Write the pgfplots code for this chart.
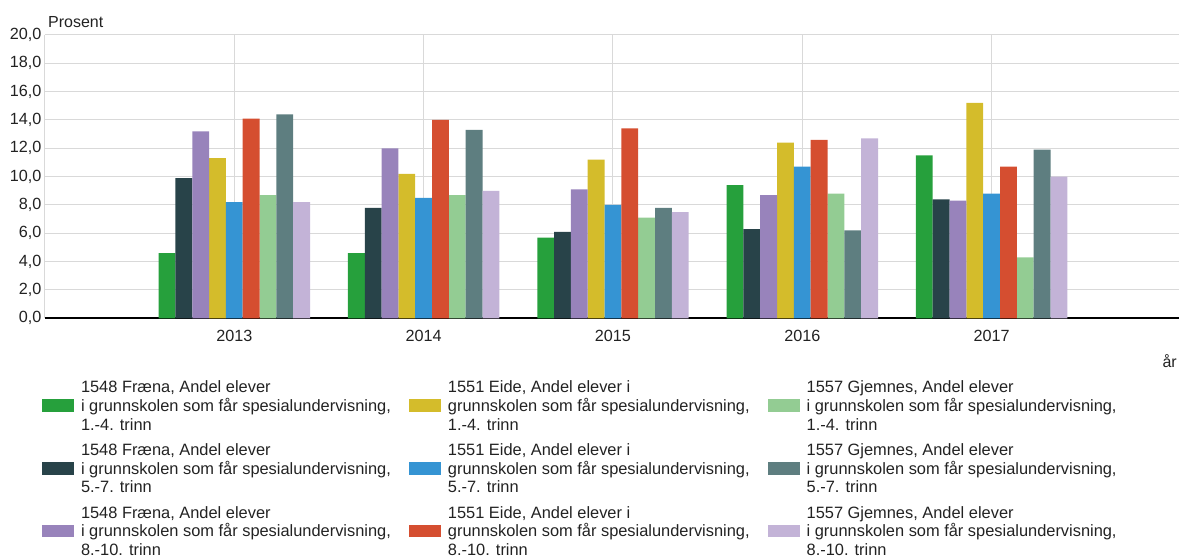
\documentclass[border=0pt]{standalone}
\usepackage{fontspec}
\setmainfont{Liberation Sans}
\usepackage{pgfplots}
\pgfplotsset{compat=1.18}
\definecolor{cFa}{RGB}{38,160,60}
\definecolor{cFb}{RGB}{40,67,73}
\definecolor{cFc}{RGB}{152,131,187}
\definecolor{cEa}{RGB}{212,188,43}
\definecolor{cEb}{RGB}{53,148,211}
\definecolor{cEc}{RGB}{213,78,48}
\definecolor{cGa}{RGB}{147,204,147}
\definecolor{cGb}{RGB}{94,126,128}
\definecolor{cGc}{RGB}{195,179,215}
\definecolor{gridgray}{RGB}{217,217,217}
\definecolor{textc}{RGB}{34,34,34}
\begin{document}
\begin{tikzpicture}[x=1pt,y=1pt,font=\fontsize{16}{18.6}\selectfont]
\useasboundingbox (0,0) rectangle (1179,559);
\begin{axis}[
  at={(45pt,240.7pt)}, anchor=south west,
  scale only axis, width=1136pt, height=283.3pt,
  xmin=2012, xmax=2018, ymin=0, ymax=20,
  ybar, bar width=0.0889,
  xtick={2013,2014,2015,2016,2017},
  ytick={0,2,4,6,8,10,12,14,16,18,20},
  grid=major, grid style={draw=gridgray, line width=1pt},
  axis x line=bottom, axis y line=left,
  axis line style={-},
  x axis line style={draw=black, line width=1.6pt},
  y axis line style={draw=gridgray, line width=1pt},
  major tick length=0pt,
  /pgf/number format/assume math mode=true,
  tick label style={font=\fontsize{16.2}{18}\selectfont, text=textc},
  x tick label style={inner sep=0pt, anchor=north, yshift=-11.7pt, /pgf/number format/1000 sep={}},
  y tick label style={inner sep=0pt, anchor=east, xshift=-3.5pt,
    /pgf/number format/fixed, /pgf/number format/fixed zerofill,
    /pgf/number format/precision=1, /pgf/number format/use comma},
  legend columns=3,
  legend cell align=left,
  legend style={at={(-0.00264,-0.2213)}, anchor=north west,
    draw=none, fill=none, inner sep=0pt, outer sep=0pt,
    nodes={inner sep=0pt, align=left, text=textc, text depth=0pt, font=\fontsize{16.4}{18.6}\selectfont},
    row sep=13.6pt,
    /tikz/every even column/.append style={column sep=18pt},
    /tikz/every odd column/.append style={column sep=7pt}},
  legend image code/.code={\fill[#1] (0pt,-6.4pt) rectangle (32pt,6.4pt);},
]
\addplot[fill=cFa, draw=none, bar shift=-0.3556] coordinates {(2013,4.6) (2014,4.6) (2015,5.7) (2016,9.4) (2017,11.5)};
\addlegendentry{1548 Fræna, Andel elever\\i grunnskolen som får spesialundervisning,\\1.-4. trinn}
\addplot[fill=cEa, draw=none, bar shift=-0.0889] coordinates {(2013,11.3) (2014,10.2) (2015,11.2) (2016,12.4) (2017,15.2)};
\addlegendentry{1551 Eide, Andel elever i\\grunnskolen som får spesialundervisning,\\1.-4. trinn}
\addplot[fill=cGa, draw=none, bar shift=0.1778] coordinates {(2013,8.7) (2014,8.7) (2015,7.1) (2016,8.8) (2017,4.3)};
\addlegendentry{1557 Gjemnes, Andel elever\\i grunnskolen som får spesialundervisning,\\1.-4. trinn}
\addplot[fill=cFb, draw=none, bar shift=-0.2667] coordinates {(2013,9.9) (2014,7.8) (2015,6.1) (2016,6.3) (2017,8.4)};
\addlegendentry{1548 Fræna, Andel elever\\i grunnskolen som får spesialundervisning,\\5.-7. trinn}
\addplot[fill=cEb, draw=none, bar shift=0] coordinates {(2013,8.2) (2014,8.5) (2015,8.0) (2016,10.7) (2017,8.8)};
\addlegendentry{1551 Eide, Andel elever i\\grunnskolen som får spesialundervisning,\\5.-7. trinn}
\addplot[fill=cGb, draw=none, bar shift=0.2667] coordinates {(2013,14.4) (2014,13.3) (2015,7.8) (2016,6.2) (2017,11.9)};
\addlegendentry{1557 Gjemnes, Andel elever\\i grunnskolen som får spesialundervisning,\\5.-7. trinn}
\addplot[fill=cFc, draw=none, bar shift=-0.1778] coordinates {(2013,13.2) (2014,12.0) (2015,9.1) (2016,8.7) (2017,8.3)};
\addlegendentry{1548 Fræna, Andel elever\\i grunnskolen som får spesialundervisning,\\8.-10. trinn}
\addplot[fill=cEc, draw=none, bar shift=0.0889] coordinates {(2013,14.1) (2014,14.0) (2015,13.4) (2016,12.6) (2017,10.7)};
\addlegendentry{1551 Eide, Andel elever i\\grunnskolen som får spesialundervisning,\\8.-10. trinn}
\addplot[fill=cGc, draw=none, bar shift=0.3556] coordinates {(2013,8.2) (2014,9.0) (2015,7.5) (2016,12.7) (2017,10.0)};
\addlegendentry{1557 Gjemnes, Andel elever\\i grunnskolen som får spesialundervisning,\\8.-10. trinn}
\end{axis}
\node[anchor=base west, inner sep=0pt, text=textc] at (48,531) {Prosent};
\node[anchor=base east, inner sep=0pt, text=textc] at (1177,191) {år};
\end{tikzpicture}
\end{document}
